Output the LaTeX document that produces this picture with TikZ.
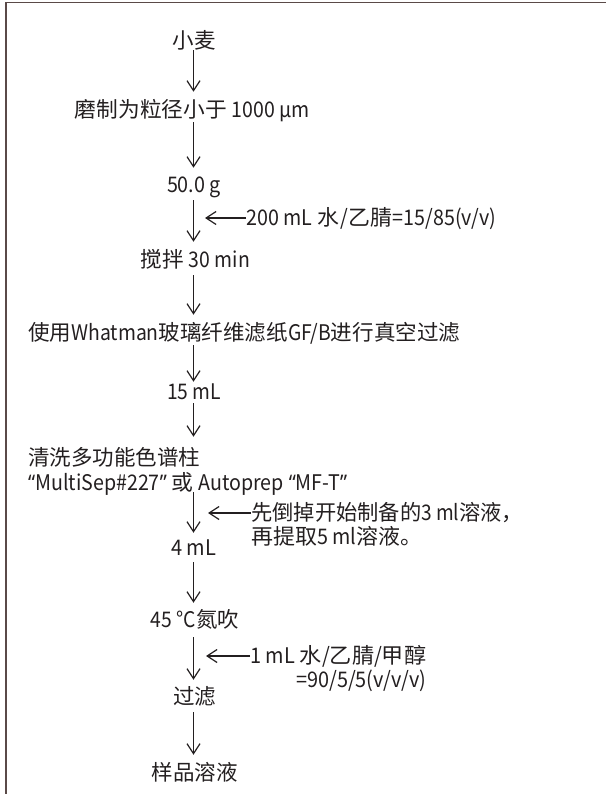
\documentclass[tikz,border=0pt]{standalone}
\usepackage{graphicx}
\usepackage{fontspec}
\setmainfont{Noto Sans CJK SC}
\newfontfamily\latf{Noto Sans CJK SC}[FakeStretch=0.9]
\newfontfamily\qf{Noto Sans}[FakeStretch=0.9]
\newcommand\la[1]{{\latf #1}}
\newcommand\fw[2]{\resizebox{#1}{\height}{#2}}
\usetikzlibrary{arrows.meta}
\definecolor{ink}{HTML}{231F20}
\definecolor{framec}{HTML}{5A4A48}
\begin{document}
\begin{tikzpicture}[x=1pt,y=-1pt,
  txt/.style={inner sep=0pt, text=ink, font=\fontsize{21.5}{26}\selectfont, text height=16.8pt, text depth=1.3pt},
  arr/.style={draw=ink, line width=1.2pt, -{Straight Barb[length=10pt,width=13pt]}}]
\useasboundingbox (0,0) rectangle (606,794);
\draw[framec, line width=1.6pt] (6,794) -- (6,2.5) -- (606,2.5);
\coordinate (ax) at (193.5,0);
% main column
\node[txt] (n1) at (194,41) {小麦};
\node[txt] (n2) at (192.5,110) {\fw{235pt}{磨制为粒径小于 \la{1000 μm}}};
\node[txt] (n3) at (194,185) {\fw{54pt}{\la{50.0 g}}};
\node[txt] (n4) at (195.5,260) {\fw{109pt}{搅拌 \la{30 min}}};
\node[txt, anchor=west] (n5) at (28,333) {\fw{432pt}{使用\la{Whatman}玻璃纤维滤纸\la{GF/B}进行真空过滤}};
\node[txt] (n6) at (194,392) {\fw{54pt}{\la{15 mL}}};
\node[txt, anchor=west] (n7) at (28,458) {清洗多功能色谱柱};
\node[txt, anchor=west] (n8) at (28,483) {\fw{319pt}{{\qf“}\la{MultiSep\#227}{\qf”} 或 \la{Autoprep} {\qf“}\la{MF-T}{\qf”}}};
\node[txt] (n9) at (193.5,548) {\fw{45pt}{\la{4 mL}}};
\node[txt] (n10) at (195,620) {\fw{88pt}{\la{45 °C}氮吹}};
\node[txt] (n11) at (194.5,697) {过滤};
\node[txt] (n12) at (194.5,773) {样品溶液};
% side labels
\node[txt, anchor=west] (s1) at (246,218) {\fw{250pt}{\la{200 mL} 水\hspace{1pt}\la{/}\hspace{1pt}乙腈\la{=15/85(v/v)}}};
\node[txt, anchor=west] (s2a) at (251,513) {\fw{272pt}{先倒掉开始制备的\la{3 ml}溶液，}};
\node[txt, anchor=west] (s2b) at (251,537) {\fw{171pt}{再提取\la{5 ml}溶液。}};
\node[txt, anchor=west] (s3a) at (250,656) {\fw{176pt}{\la{1 mL} 水\la{/}乙腈\la{/}甲醇}};
\coordinate (r3) at (0,680);
\node[txt, anchor=east] (s3b) at (s3a.east |- r3) {\fw{130pt}{\la{=90/5/5(v/v/v)}}};
% main arrows
\draw[arr, shorten <=0pt, shorten >=9pt] (n1.south -| ax) -- (n2.north -| ax);
\draw[arr, shorten <=3pt, shorten >=8pt] (n2.south -| ax) -- (n3.north -| ax);
\draw[arr, shorten <=6pt, shorten >=9pt] (n3.south -| ax) -- (n4.north -| ax);
\draw[arr, shorten <=6pt, shorten >=9pt] (n4.south -| ax) -- (n5.north -| ax);
\draw[arr, shorten <=3pt, shorten >=1pt] (n5.south -| ax) -- (n6.north -| ax);
\draw[arr, shorten <=2pt, shorten >=12pt] (n6.south -| ax) -- (n7.north -| ax);
\draw[arr, shorten <=0pt, shorten >=6pt] (n8.south -| ax) -- (n9.north -| ax);
\draw[arr, shorten <=5pt, shorten >=8pt] (n9.south -| ax) -- (n10.north -| ax);
\draw[arr, shorten <=8pt, shorten >=8pt] (n10.south -| ax) -- (n11.north -| ax);
\draw[arr, shorten <=6pt, shorten >=9pt] (n11.south -| ax) -- (n12.north -| ax);
% side arrows
\coordinate (t1) at (205,218);
\coordinate (t2) at (208,513);
\coordinate (t3) at (206,656);
\draw[arr] (s1.west) -- (t1);
\draw[arr] (s2a.west) -- (t2);
\draw[arr] (s3a.west) -- (t3);
\end{tikzpicture}
\end{document}
